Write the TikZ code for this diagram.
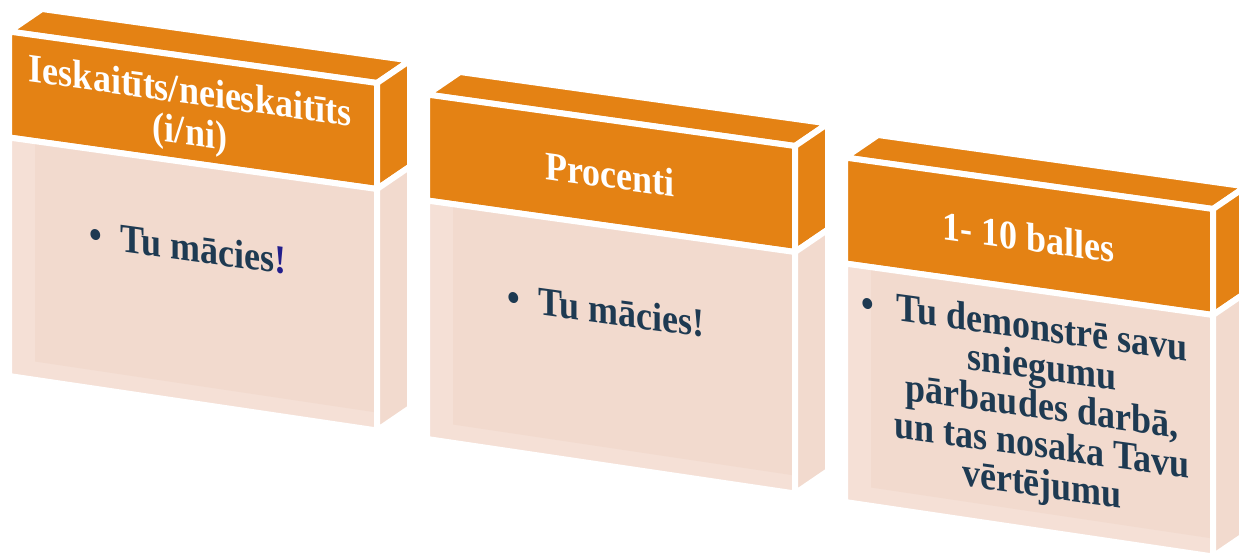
\documentclass[tikz,border=0pt]{standalone}
\usepackage{fontspec}
\setmainfont{Liberation Serif}
\usetikzlibrary{calc}
\definecolor{hdr}{RGB}{228,130,20}
\definecolor{bodyc}{RGB}{242,218,206}
\definecolor{bodyl}{RGB}{245,224,214}
\definecolor{txt}{RGB}{30,58,82}
\definecolor{excl}{RGB}{35,30,140}
\newcommand\stxt[5]{%
  \begin{scope}[shift={(#2,#3)},yslant=-0.138,yscale=1.12]
    \node[#4,transform shape,anchor=base] (#1) at (0,0) {#5};
  \end{scope}}
\begin{document}
\begin{tikzpicture}[x=1pt,y=-1pt,
  face/.style={line width=6pt, draw=white, line join=round},
  hdrtxt/.style={font=\fontsize{36}{40}\selectfont\bfseries, text=white, inner sep=0pt},
  bodytxt/.style={font=\fontsize{36}{40}\selectfont\bfseries, text=txt, inner sep=0pt}]
\useasboundingbox (0,0) rectangle (1239,555);
\clip (0,0) rectangle (1239,555);
\foreach \n/\dx/\dy in {1/0/0,2/418/63,3/836/126}{
  \begin{scope}[shift={(\dx,\dy)}]
    \coordinate (A\n) at (9,31.5);
    \coordinate (B\n) at (377,83);
    \coordinate (C\n) at (9,137.5);
    \coordinate (D\n) at (377,189);
    \coordinate (E\n) at (9,376);
    \coordinate (F\n) at (377,430.5);
    % top face
    \filldraw[face, fill=hdr] (A\n) -- (B\n) -- ($(B\n)+(33,-22.5)$) -- ($(A\n)+(33,-22.5)$) -- cycle;
    % header front
    \filldraw[face, fill=hdr] (A\n) -- (B\n) -- (D\n) -- (C\n) -- cycle;
    % header side
    \filldraw[face, fill=hdr] (B\n) -- ($(B\n)+(33,-22.5)$) -- ($(D\n)+(33,-22.5)$) -- (D\n) -- cycle;
    % body front
    \fill[bodyl] (C\n) -- (D\n) -- (F\n) -- (E\n) -- cycle;
    \fill[bodyc] ($(C\n)+(26,3.6)$) -- (D\n) -- ($(F\n)+(0,-18)$) -- ($(E\n)+(26,-14.5)$) -- cycle;
    \draw[face] (C\n) -- (D\n) -- (F\n) -- (E\n) -- cycle;
    % body side
    \filldraw[face, fill=bodyc] (D\n) -- ($(D\n)+(33,-22.5)$) -- ($(F\n)+(33,-22.5)$) -- (F\n) -- cycle;
  \end{scope}
}
% header texts
\stxt{h1a}{190}{104}{hdrtxt}{Ieskaitīts/neieskaitīts}
\stxt{h1b}{190}{145}{hdrtxt}{(i/ni)}
\stxt{h2}{610}{188}{hdrtxt}{Procenti}
\stxt{h3}{1028}{251}{hdrtxt}{1- 10 balles}
% body texts
\stxt{b1}{188}{261}{bodytxt}{\textbullet\hspace{18pt}Tu mācies{\color{excl}!}}
\stxt{b2}{606}{324}{bodytxt}{\textbullet\hspace{18pt}Tu mācies!}
\stxt{b3bul}{868}{317}{bodytxt}{\textbullet}
\stxt{b3a}{1042}{341}{bodytxt}{Tu demonstrē savu}
\stxt{b3b}{1042}{380}{bodytxt}{sniegumu}
\stxt{b3c}{1042}{419}{bodytxt}{pārbaudes darbā,}
\stxt{b3d}{1042}{458}{bodytxt}{un tas nosaka Tavu}
\stxt{b3e}{1042}{497}{bodytxt}{vērtējumu}
\end{tikzpicture}
\end{document}
